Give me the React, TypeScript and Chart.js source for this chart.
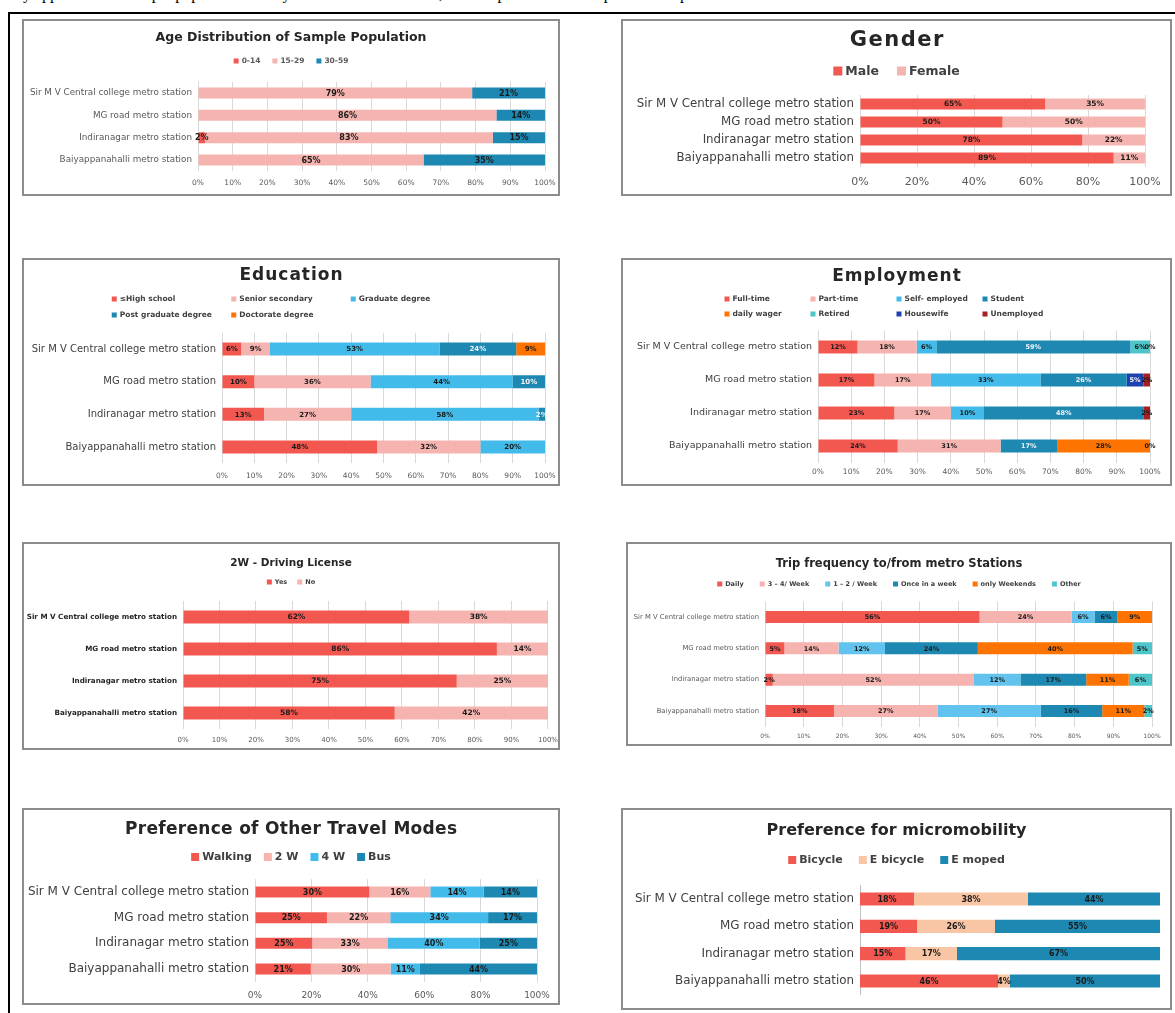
import React, { useEffect, useRef } from "react";
import { Chart, registerables } from "chart.js";

Chart.register(...registerables);

const FONT = "'DejaVu Sans', sans-serif";

// ---------- data ----------
const stations = [
  "Sir M V Central college metro station",
  "MG road metro station",
  "Indiranagar metro station",
  "Baiyappanahalli metro station",
];

// Age distribution
const ageSeries = ["0-14", "15-29", "30-59"];
const age0to14 = [null, null, 2, null];
const age15to29 = [79, 86, 83, 65];
const age30to59 = [21, 14, 15, 35];

// Gender
const genderSeries = ["Male", "Female"];
const genderMale = [65, 50, 78, 89];
const genderFemale = [35, 50, 22, 11];

// Education
const eduSeries = ["≤High school", "Senior secondary", "Graduate degree", "Post graduate degree", "Doctorate degree"];
const eduHighSchool = [6, 10, 13, 48];
const eduSenior = [9, 36, 27, 32];
const eduGraduate = [53, 44, 58, 20];
const eduPostGrad = [24, 10, 2, null];
const eduDoctorate = [9, null, null, null];

// Employment
const empSeries = ["Full-time", "Part-time", "Self- employed", "Student", "daily wager", "Retired", "Housewife", "Unemployed"];
const empFullTime = [12, 17, 23, 24];
const empPartTime = [18, 17, 17, 31];
const empSelf = [6, 33, 10, null];
const empStudent = [59, 26, 48, 17];
const empDailyWager = [null, null, null, 28];
const empRetired = [6, null, null, 0];
const empHousewife = [null, 5, null, null];
const empUnemployed = [0, 2, 2, null];

// 2W driving license
const dlSeries = ["Yes", "No"];
const dlYes = [62, 86, 75, 58];
const dlNo = [38, 14, 25, 42];

// Trip frequency
const tripSeries = ["Daily", "3 – 4/ Week", "1 – 2 / Week", "Once in a week", "only Weekends", "Other"];
const tripDaily = [56, 5, 2, 18];
const trip3to4 = [24, 14, 52, 27];
const trip1to2 = [6, 12, 12, 27];
const tripOnce = [6, 24, 17, 16];
const tripWeekends = [9, 40, 11, 11];
const tripOther = [null, 5, 6, 2];

// Preference of other travel modes
const modeSeries = ["Walking", "2 W", "4 W", "Bus"];
const modeWalking = [30, 25, 25, 21];
const mode2W = [16, 22, 33, 30];
const mode4W = [14, 34, 40, 11];
const modeBus = [14, 17, 25, 44];

// Preference for micromobility
const microSeries = ["Bicycle", "E bicycle", "E moped"];
const microBicycle = [18, 19, 15, 46];
const microEBicycle = [38, 26, 17, 4];
const microEMoped = [44, 55, 67, 50];

// ---------- colours ----------
const RED = "#F25850";
const PINK = "#F5B4AF";
const LBLUE = "#43BBEA";
const LBLUE2 = "#62C4EE";
const BLUE = "#1D89B3";
const ORANGE = "#FF7400";
const TEAL = "#4EC5C9";
const DBLUE = "#1F40B0";
const DRED = "#A81E22";
const PEACH = "#F8C6A4";
const DARK = "#1a1a1a";
const WHITE = "#f4f4f4";

type Legend = {
  ys: number[];
  rows: number[][];
  size: number;
  bold: boolean;
  box: number;
  colWidth?: number;
  gap?: number;
  color: string;
};

type Spec = {
  left: number; top: number; width: number; height: number;
  title: string; titleSize: number; titleSpacing: number; titleY: number; plotTop: number;
  series: string[]; colors: string[]; values: (number | null)[][]; labelColors: string[];
  legend: Legend;
  yWidth: number; catSize: number; catBold?: boolean; catColor: string;
  xHeight: number; tickSize: number; tickPad: number; step: number;
  showTicks: boolean; showGrid: boolean; yBorder: boolean;
  padRight: number; barPct: number; labelSize: number;
};

const panels: Spec[] = [
  {
    left: 22, top: 19, width: 538, height: 177,
    title: "Age Distribution of Sample Population", titleSize: 12.5, titleSpacing: 0, titleY: 17, plotTop: 60.8,
    series: ageSeries, colors: [RED, PINK, BLUE], values: [age0to14, age15to29, age30to59], labelColors: [DARK, DARK, DARK],
    legend: { ys: [40], rows: [[0, 1, 2]], size: 7.5, bold: true, box: 5, gap: 12, color: "#595959" },
    yWidth: 174, catSize: 8.8, catColor: "#595959",
    xHeight: 22.8, tickSize: 7.5, tickPad: 7.3, step: 10, showTicks: true, showGrid: true, yBorder: false,
    padRight: 13, barPct: 0.49, labelSize: 8,
  },
  {
    left: 621, top: 19, width: 551, height: 177,
    title: "Gender", titleSize: 21, titleSpacing: 1.5, titleY: 20, plotTop: 74,
    series: genderSeries, colors: [RED, PINK], values: [genderMale, genderFemale], labelColors: [DARK, DARK],
    legend: { ys: [50], rows: [[0, 1]], size: 12.5, bold: true, box: 9, gap: 18, color: "#404040" },
    yWidth: 237, catSize: 11.8, catColor: "#404040",
    xHeight: 27, tickSize: 11, tickPad: 8.4, step: 20, showTicks: true, showGrid: true, yBorder: false,
    padRight: 25, barPct: 0.61, labelSize: 7.5,
  },
  {
    left: 22, top: 258, width: 538, height: 228,
    title: "Education", titleSize: 17, titleSpacing: 1, titleY: 16, plotTop: 72.7,
    series: eduSeries, colors: [RED, PINK, LBLUE, BLUE, ORANGE],
    values: [eduHighSchool, eduSenior, eduGraduate, eduPostGrad, eduDoctorate], labelColors: [DARK, DARK, DARK, WHITE, DARK],
    legend: { ys: [39, 55], rows: [[0, 1, 2], [3, 4]], size: 7.5, bold: true, box: 5, colWidth: 119.5, color: "#404040" },
    yWidth: 198, catSize: 10, catColor: "#404040",
    xHeight: 20.7, tickSize: 7.5, tickPad: 8.2, step: 10, showTicks: true, showGrid: true, yBorder: false,
    padRight: 13, barPct: 0.4, labelSize: 7,
  },
  {
    left: 621, top: 258, width: 551, height: 228,
    title: "Employment", titleSize: 17, titleSpacing: 1, titleY: 17, plotTop: 70.5,
    series: empSeries, colors: [RED, PINK, LBLUE, BLUE, ORANGE, TEAL, DBLUE, DRED],
    values: [empFullTime, empPartTime, empSelf, empStudent, empDailyWager, empRetired, empHousewife, empUnemployed],
    labelColors: [DARK, DARK, DARK, WHITE, DARK, DARK, WHITE, DARK],
    legend: { ys: [39, 54], rows: [[0, 1, 2, 3], [4, 5, 6, 7]], size: 7.5, bold: true, box: 5, colWidth: 86, color: "#404040" },
    yWidth: 195, catSize: 9.5, catColor: "#404040",
    xHeight: 21.5, tickSize: 7.5, tickPad: 5, step: 10, showTicks: true, showGrid: true, yBorder: false,
    padRight: 20, barPct: 0.39, labelSize: 6.5,
  },
  {
    left: 22, top: 542, width: 538, height: 208,
    title: "2W - Driving License", titleSize: 10.5, titleSpacing: 0, titleY: 19, plotTop: 57,
    series: dlSeries, colors: [RED, PINK], values: [dlYes, dlNo], labelColors: [DARK, DARK],
    legend: { ys: [38], rows: [[0, 1]], size: 6.5, bold: true, box: 5, gap: 10, color: "#404040" },
    yWidth: 159, catSize: 7.2, catBold: true, catColor: "#262626",
    xHeight: 19, tickSize: 7, tickPad: 6.8, step: 10, showTicks: true, showGrid: true, yBorder: false,
    padRight: 10, barPct: 0.41, labelSize: 7.5,
  },
  {
    left: 626, top: 542, width: 546, height: 204,
    title: "Trip frequency to/from metro Stations", titleSize: 11.5, titleSpacing: 0, titleY: 20, plotTop: 57.3,
    series: tripSeries, colors: [RED, PINK, LBLUE2, BLUE, ORANGE, TEAL],
    values: [tripDaily, trip3to4, trip1to2, tripOnce, tripWeekends, tripOther], labelColors: [DARK, DARK, DARK, DARK, DARK, DARK],
    legend: { ys: [40], rows: [[0, 1, 2, 3, 4, 5]], size: 6.5, bold: true, box: 5, gap: 16, color: "#404040" },
    yWidth: 137, catSize: 6.8, catColor: "#595959",
    xHeight: 17.3, tickSize: 6, tickPad: 5.7, step: 10, showTicks: true, showGrid: true, yBorder: false,
    padRight: 18, barPct: 0.38, labelSize: 6.5,
  },
  {
    left: 22, top: 808, width: 538, height: 197,
    title: "Preference of Other Travel Modes", titleSize: 17, titleSpacing: 0.3, titleY: 20, plotTop: 69.2,
    series: modeSeries, colors: [RED, PINK, LBLUE, BLUE], values: [modeWalking, mode2W, mode4W, modeBus],
    labelColors: [DARK, DARK, DARK, DARK],
    legend: { ys: [47], rows: [[0, 1, 2, 3]], size: 11, bold: true, box: 8, gap: 12, color: "#404040" },
    yWidth: 231, catSize: 12, catColor: "#404040",
    xHeight: 21.2, tickSize: 9, tickPad: 8.8, step: 20, showTicks: true, showGrid: true, yBorder: false,
    padRight: 21, barPct: 0.43, labelSize: 8,
  },
  {
    left: 621, top: 808, width: 551, height: 202,
    title: "Preference for micromobility", titleSize: 16, titleSpacing: 0, titleY: 21, plotTop: 75.3,
    series: microSeries, colors: [RED, PEACH, BLUE], values: [microBicycle, microEBicycle, microEMoped],
    labelColors: [DARK, DARK, DARK],
    legend: { ys: [50], rows: [[0, 1, 2]], size: 11, bold: true, box: 8, gap: 16, color: "#404040" },
    yWidth: 237, catSize: 11.9, catColor: "#404040",
    xHeight: 13.3, tickSize: 9, tickPad: 5, step: 20, showTicks: false, showGrid: false, yBorder: true,
    padRight: 10, barPct: 0.48, labelSize: 8,
  },
];

function titlePlugin(spec: Spec) {
  return {
    id: "spacedTitle",
    afterDraw(chart: any) {
      const ctx = chart.ctx as any;
      ctx.save();
      ctx.font = `bold ${spec.titleSize}px ${FONT}`;
      ctx.fillStyle = "#262626";
      ctx.textAlign = "center";
      ctx.textBaseline = "middle";
      ctx.letterSpacing = `${spec.titleSpacing}px`;
      ctx.fillText(spec.title, chart.width / 2 + spec.titleSpacing / 2, spec.titleY);
      ctx.restore();
    },
  };
}

function legendPlugin(spec: Spec) {
  return {
    id: "boxLegend",
    afterDraw(chart: any) {
      const ctx = chart.ctx as CanvasRenderingContext2D;
      const L = spec.legend;
      ctx.save();
      ctx.font = `${L.bold ? "bold " : ""}${L.size}px ${FONT}`;
      ctx.textBaseline = "middle";
      ctx.textAlign = "left";
      const W = chart.width;
      const ncols = Math.max(...L.rows.map((r) => r.length));
      L.rows.forEach((row, ri) => {
        const y = L.ys[ri];
        let xs: number[];
        if (L.colWidth) {
          const x0 = (W - ncols * L.colWidth) / 2;
          xs = row.map((_, ci) => x0 + ci * (L.colWidth as number));
        } else {
          const ws = row.map((idx) => L.box + 3 + ctx.measureText(spec.series[idx]).width);
          const gap = L.gap ?? 10;
          const total = ws.reduce((a, b) => a + b, 0) + (row.length - 1) * gap;
          let x = (W - total) / 2;
          xs = ws.map((w) => {
            const cur = x;
            x += w + gap;
            return cur;
          });
        }
        row.forEach((idx, ci) => {
          ctx.fillStyle = spec.colors[idx];
          ctx.fillRect(xs[ci], y - L.box / 2, L.box, L.box);
          ctx.fillStyle = L.color;
          ctx.fillText(spec.series[idx], xs[ci] + L.box + 3, y + 0.5);
        });
      });
      ctx.restore();
    },
  };
}

function valueLabelPlugin(spec: Spec) {
  return {
    id: "valueLabels",
    afterDatasetsDraw(chart: any) {
      const ctx = chart.ctx as CanvasRenderingContext2D;
      ctx.save();
      ctx.font = `bold ${spec.labelSize}px ${FONT}`;
      ctx.textAlign = "center";
      ctx.textBaseline = "middle";
      chart.data.datasets.forEach((ds: any, di: number) => {
        const meta = chart.getDatasetMeta(di);
        meta.data.forEach((el: any, i: number) => {
          const raw = ds.rawValues[i];
          if (raw === null || raw === undefined) return;
          const p = el.getProps(["x", "y", "base"], true);
          ctx.fillStyle = ds.labelColor;
          ctx.fillText(`${raw}%`, (p.x + p.base) / 2, p.y + 0.5);
        });
      });
      ctx.restore();
    },
  };
}

function StackedPanel({ spec }: { spec: Spec }) {
  const ref = useRef<HTMLCanvasElement>(null);
  useEffect(() => {
    const canvas = ref.current as HTMLCanvasElement;
    const totals = stations.map((_, i) => spec.values.reduce((s, arr) => s + (arr[i] ?? 0), 0));
    const datasets = spec.values.map((arr, k) => ({
      label: spec.series[k],
      data: arr.map((v, i) => (v === null ? 0 : (v / totals[i]) * 100)),
      rawValues: arr,
      labelColor: spec.labelColors[k],
      backgroundColor: spec.colors[k],
      borderWidth: 0,
      categoryPercentage: 1,
      barPercentage: spec.barPct,
    }));
    const padTop = spec.titleY - 0.6 * spec.titleSize;
    const padBottom = spec.plotTop - padTop - 1.2 * spec.titleSize;
    const chart = new Chart(canvas, {
      type: "bar",
      data: { labels: stations, datasets: datasets as any },
      options: {
        animation: false,
        responsive: false,
        maintainAspectRatio: false,
        indexAxis: "y",
        layout: { padding: { left: 0, right: spec.padRight, top: 0, bottom: 0 } },
        plugins: {
          legend: { display: false },
          tooltip: { enabled: false },
          title: {
            display: true,
            text: spec.title,
            color: "rgba(0,0,0,0)",
            font: { family: FONT, size: spec.titleSize, weight: "bold" },
            padding: { top: padTop, bottom: padBottom },
          },
        },
        scales: {
          x: {
            stacked: true,
            min: 0,
            max: 100,
            ticks: {
              display: spec.showTicks,
              stepSize: spec.step,
              callback: (v: any) => `${v}%`,
              font: { family: FONT, size: spec.tickSize },
              color: "#595959",
              padding: 0,
              maxRotation: 0,
              autoSkip: false,
            },
            grid: {
              display: spec.showGrid,
              color: "#d9d9d9",
              drawTicks: true,
              tickLength: spec.tickPad,
              tickColor: "rgba(0,0,0,0)",
              lineWidth: 1,
            },
            border: { display: false },
            afterFit: (s: any) => {
              s.height = spec.xHeight;
            },
          },
          y: {
            stacked: true,
            ticks: {
              font: { family: FONT, size: spec.catSize, weight: spec.catBold ? "bold" : "normal" },
              color: spec.catColor,
              padding: 6,
              autoSkip: false,
            },
            grid: { display: false, drawTicks: false },
            border: { display: spec.yBorder, color: "#bfbfbf", width: 1 },
            afterFit: (s: any) => {
              s.width = spec.yWidth;
            },
          },
        },
      } as any,
      plugins: [valueLabelPlugin(spec), legendPlugin(spec), titlePlugin(spec)],
    });
    return () => chart.destroy();
  }, [spec]);

  return (
    <div
      style={{
        position: "absolute",
        left: spec.left,
        top: spec.top,
        width: spec.width,
        height: spec.height,
        border: "2px solid #8c8c8c",
        boxSizing: "border-box",
        background: "#fff",
      }}
    >
      <canvas ref={ref} width={spec.width - 4} height={spec.height - 4} style={{ display: "block" }} />
    </div>
  );
}

export default function App() {
  return (
    <div
      style={{
        position: "absolute",
        left: 0,
        top: 0,
        width: 1175,
        height: 1013,
        overflow: "hidden",
        background: "#fff",
      }}
    >
      <div
        style={{
          position: "absolute",
          left: 14,
          top: -15,
          font: "16px 'Liberation Serif', serif",
          whiteSpace: "nowrap",
          color: "#000",
        }}
      >
        lly applied to the sample population surveyed at the metro stations, and the profile of the respondents is presented below.
      </div>
      <div
        style={{
          position: "absolute",
          left: 8,
          top: 12,
          width: 1300,
          height: 1200,
          borderTop: "2px solid #000",
          borderLeft: "2px solid #000",
        }}
      />
      {panels.map((p, i) => (
        <StackedPanel key={i} spec={p} />
      ))}
    </div>
  );
}
